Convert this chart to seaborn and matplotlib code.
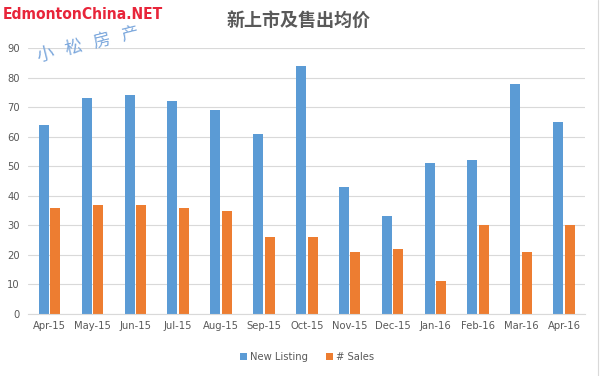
import matplotlib
matplotlib.use('Agg')
import matplotlib.pyplot as plt
import seaborn as sns
import pandas as pd

months = ['Apr-15', 'May-15', 'Jun-15', 'Jul-15', 'Aug-15', 'Sep-15', 'Oct-15',
          'Nov-15', 'Dec-15', 'Jan-16', 'Feb-16', 'Mar-16', 'Apr-16']
new_listing = [64, 73, 74, 72, 69, 61, 84, 43, 33, 51, 52, 78, 65]
sales = [36, 37, 37, 36, 35, 26, 26, 21, 22, 11, 30, 21, 30]
series = ['New Listing', '# Sales']
colors = ['#5B9BD5', '#ED7D31']

df = pd.DataFrame({
    'month': months * 2,
    'value': new_listing + sales,
    'series': [series[0]] * len(months) + [series[1]] * len(months),
})

sns.set_style('white')
plt.rcParams['font.family'] = ['DejaVu Sans', 'Noto Sans CJK SC']

fig = plt.figure(figsize=(6.01, 3.76), dpi=100)
ax = fig.add_axes([0.047, 0.165, 0.927, 0.707])

sns.barplot(data=df, x='month', y='value', hue='series', palette=colors,
            width=0.54, gap=0.13, ax=ax, saturation=1, linewidth=0, legend=True)

ax.set_ylim(0, 90)
ax.set_yticks(range(0, 91, 10))
ax.yaxis.grid(True, color='#D9D9D9', linewidth=0.8)
ax.set_axisbelow(True)
ax.set_xlabel('')
ax.set_ylabel('')
for s in ['top', 'right', 'left']:
    ax.spines[s].set_visible(False)
ax.spines['bottom'].set_color('#D9D9D9')
ax.tick_params(axis='both', colors='#595959', labelsize=7.2, length=0, pad=6)
ax.tick_params(axis='x', pad=5)
ax.set_xlim(-0.5, len(months) - 0.5)

ax.legend(loc='upper center', bbox_to_anchor=(0.5, -0.108), ncol=2, frameon=False,
          fontsize=7.2, labelcolor='#595959', handlelength=0.7, handleheight=0.7,
          handletextpad=0.3, columnspacing=1.8)

fig.text(0.497, 0.947, '新上市及售出均价', ha='center', va='center', fontsize=13,
         color='#595959', fontweight='bold', family=['Noto Sans CJK SC', 'DejaVu Sans'])
fig.text(0.004, 0.961, 'EdmontonChina.NET', ha='left', va='center', fontsize=11.2,
         color='#E8253A', fontweight='bold', fontstretch='condensed',
         family=['DejaVu Sans'])
fig.text(0.058, 0.825, '小   松   房   产', ha='left', va='bottom', fontsize=12.5,
         color='#7BA7DC', rotation=14, fontweight='light',
         family=['Noto Sans CJK SC', 'DejaVu Sans'])

fig.add_artist(plt.Line2D([0.995, 0.995], [0, 1], color='#D9D9D9', linewidth=0.8))

fig.savefig('out.png', dpi=100)
plt.close(fig)
